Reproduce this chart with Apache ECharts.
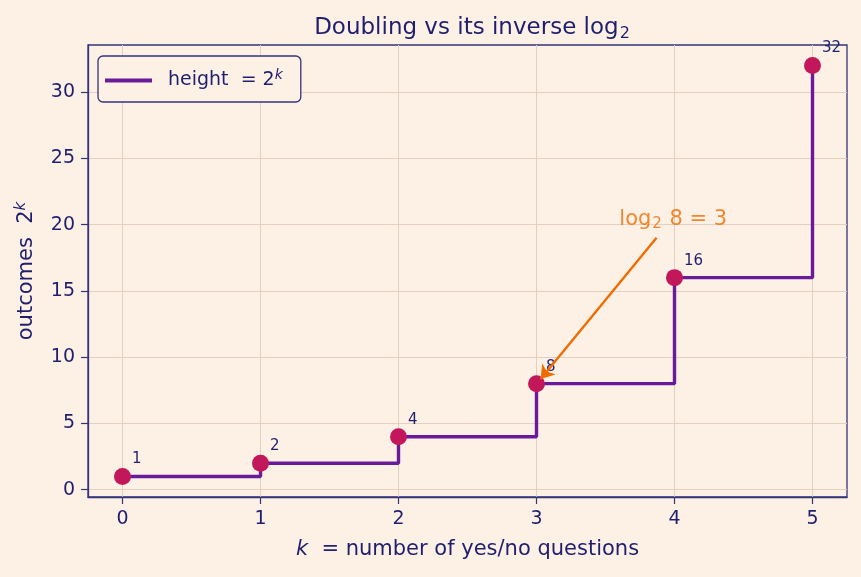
<!DOCTYPE html>
<html>
<head>
<meta charset="utf-8">
<script src="https://cdn.jsdelivr.net/npm/echarts@6/dist/echarts.min.js"></script>
<style>
  html, body { margin: 0; padding: 0; background: #fdf1e6; }
  #chart { width: 861px; height: 577px; }
</style>
</head>
<body>
<div id="chart"></div>
<script>
// data
const kValues = [0, 1, 2, 3, 4, 5];
const outcomes = [1, 2, 4, 8, 16, 32];
const xTicks = [0, 1, 2, 3, 4, 5];
const yTicks = [0, 5, 10, 15, 20, 25, 30];
// annotation: text anchor, arrow tail, arrow head (data coords)
const noteText = [3.6, 20.4];
const arrowFrom = [3.87, 19.0];
const arrowTo = [3.03, 8.35];

const NAVY = '#1f1f6e';
const SPINE = '#34347a';
const GRID = '#e4cfc3';
const PURPLE = '#6a1b9a';
const CRIMSON = '#c2185b';
const ORANGE = '#ef6c00';
const FONT = 'DejaVu Sans';

const points = kValues.map((k, i) => [k, outcomes[i]]);

const chart = echarts.init(document.getElementById('chart'), null, { renderer: 'canvas' });

chart.setOption({
  animation: false,
  backgroundColor: '#fdf1e6',
  textStyle: { fontFamily: FONT, color: NAVY },
  title: {
    text: '{a|Doubling vs its inverse log}{s|2}',
    left: 467, top: 10, textAlign: 'center',
    textStyle: {
      fontFamily: FONT, fontSize: 23, fontWeight: 'normal', color: NAVY,
      rich: {
        a: { fontFamily: FONT, fontSize: 23, color: NAVY },
        s: { fontFamily: FONT, fontSize: 16, color: NAVY, padding: [11, 0, 0, 1] }
      }
    }
  },
  grid: {
    left: 88, right: 14, top: 45, bottom: 80,
    show: true, borderColor: SPINE, borderWidth: 1.3, backgroundColor: 'transparent'
  },
  legend: {
    left: 98, top: 56,
    padding: [12, 18, 12, 7],
    backgroundColor: '#fdf1e6',
    borderColor: SPINE, borderWidth: 1.3, borderRadius: 5,
    itemWidth: 47, itemHeight: 4, itemGap: 10,
    data: [{ name: 'height', icon: 'rect' }],
    formatter: () => '{a|height  = 2}{s|k}',
    textStyle: {
      color: NAVY, fontFamily: FONT, fontSize: 19,
      padding: [0, 0, 0, 11],
      rich: {
        a: { fontFamily: FONT, fontSize: 19, color: NAVY },
        s: { fontFamily: FONT, fontSize: 14, color: NAVY, fontStyle: 'italic', padding: [0, 0, 11, 0] }
      }
    }
  },
  xAxis: {
    type: 'value', min: -0.25, max: 5.25, splitNumber: 5,
    name: '{i|k}{a|  = number of yes/no questions}',
    nameLocation: 'middle', nameGap: 42,
    nameTextStyle: {
      rich: {
        i: { fontFamily: FONT, fontSize: 21, fontStyle: 'italic', color: NAVY },
        a: { fontFamily: FONT, fontSize: 21, color: NAVY }
      }
    },
    axisLine: { show: true, onZero: false, lineStyle: { color: SPINE, width: 1.3 } },
    axisTick: { show: true, length: 7, inside: false, lineStyle: { color: SPINE, width: 1.2 }, customValues: xTicks },
    axisLabel: { color: NAVY, fontSize: 19, fontFamily: FONT, margin: 13, customValues: xTicks },
    splitLine: { show: true, lineStyle: { color: GRID, width: 1 } }
  },
  yAxis: {
    type: 'value', min: -0.55, max: 33.55, splitNumber: 7,
    name: '{a|outcomes  2}{s|k}',
    nameLocation: 'middle', nameGap: 48, nameRotate: 90,
    nameTextStyle: {
      rich: {
        a: { fontFamily: FONT, fontSize: 21, color: NAVY },
        s: { fontFamily: FONT, fontSize: 15, fontStyle: 'italic', color: NAVY, padding: [0, 0, 11, 0] }
      }
    },
    axisLine: { show: true, onZero: false, lineStyle: { color: SPINE, width: 1.3 } },
    axisTick: { show: true, length: 7, inside: false, lineStyle: { color: SPINE, width: 1.2 }, customValues: yTicks },
    axisLabel: { color: NAVY, fontSize: 19, fontFamily: FONT, margin: 13, customValues: yTicks },
    splitLine: { show: true, lineStyle: { color: GRID, width: 1 } }
  },
  series: [
    {
      name: 'height',
      type: 'line',
      step: 'end',
      data: points,
      showSymbol: false,
      lineStyle: { color: PURPLE, width: 3.4 },
      itemStyle: { color: PURPLE },
      z: 2
    },
    {
      name: 'points',
      type: 'scatter',
      data: points,
      symbolSize: 17,
      itemStyle: { color: CRIMSON, opacity: 1 },
      label: {
        show: true,
        position: 'right',
        distance: 0,
        offset: [1, -17],
        formatter: p => String(p.value[1]),
        color: NAVY, fontSize: 15, fontFamily: FONT
      },
      z: 4
    },
    {
      name: 'note',
      type: 'scatter',
      data: [noteText],
      symbolSize: 0,
      silent: true,
      label: {
        show: true,
        position: 'right',
        distance: 0,
        formatter: '{a|log}{s|2}{a| 8 = 3}',
        color: ORANGE, fontSize: 21, fontFamily: FONT,
        rich: {
          a: { fontFamily: FONT, fontSize: 21, color: ORANGE },
          s: { fontFamily: FONT, fontSize: 15, color: ORANGE, padding: [10, 1, 0, 1] }
        }
      },
      markLine: {
        silent: true,
        symbol: ['none', 'arrow'],
        symbolSize: 13,
        label: { show: false },
        lineStyle: { color: ORANGE, width: 2.4, type: 'solid' },
        data: [[{ coord: arrowFrom }, { coord: arrowTo }]]
      },
      z: 5
    }
  ]
});
</script>
</body>
</html>
